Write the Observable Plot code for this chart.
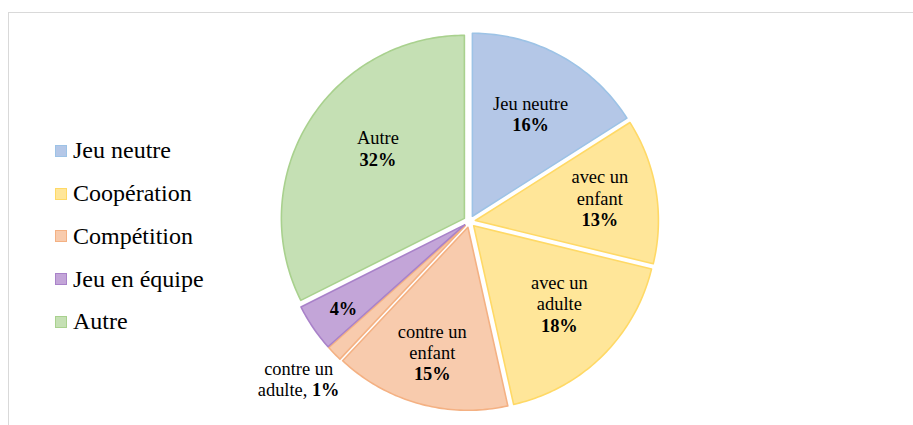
<!DOCTYPE html>
<html><head><meta charset="utf-8">
<script src="https://cdn.jsdelivr.net/npm/d3@7"></script>
<script src="https://cdn.jsdelivr.net/npm/@observablehq/plot@0.6"></script>
<style>
body{margin:0;background:#fff;}
#wrap{position:relative;width:913px;height:425px;overflow:hidden;font-family:'Liberation Serif','Times New Roman','DejaVu Serif',serif;}
#frame{position:absolute;left:8px;top:12px;width:1000px;height:1000px;border-left:1px solid #d9d9d9;border-top:1px solid #d9d9d9;}
#legend{position:absolute;left:55px;top:129.6px;}
.item{display:flex;align-items:center;height:42.7px;font-size:24px;color:#000;white-space:nowrap;}
.sw{width:12px;height:12px;margin-right:6px;box-sizing:border-box;flex:none;}
#chart svg{position:absolute;left:0;top:0;}
#chart svg text{font-family:'Liberation Serif','Times New Roman','DejaVu Serif',serif;}
</style></head><body><div id="wrap"><div id="frame"></div><div id="chart"></div><div id="legend"></div></div>
<script>
// ---- data ----
const sliceNames = ["Jeu neutre","avec un enfant","avec un adulte","contre un enfant","contre un adulte","Jeu en équipe","Autre"];
const sliceGroups = ["Jeu neutre","Coopération","Coopération","Compétition","Compétition","Jeu en équipe","Autre"];
const sliceValues = [16.0, 12.8, 17.7, 15.5, 1.4, 4.2, 32.4];
const percentLabels = ["16%","13%","18%","15%","1%","4%","32%"];
const nameLines = [["Jeu neutre"],["avec un","enfant"],["avec un","adulte"],["contre un","enfant"],["contre un","adulte, "],[],["Autre"]];
const legendLabels = ["Jeu neutre","Coopération","Compétition","Jeu en équipe","Autre"];

// ---- style / layout ----
const fills   = {"Jeu neutre":"#b4c7e7","Coopération":"#ffe699","Compétition":"#f8cbad","Jeu en équipe":"#c3a5d8","Autre":"#c5e0b4"};
const strokes = {"Jeu neutre":"#9dc3e6","Coopération":"#ffd966","Compétition":"#f4b183","Jeu en équipe":"#a982c9","Autre":"#a9d18e"};
const W = 913, H = 425, CX = 469, CY = 221, R = 183, EXPLODE = 6;
const labelRadius = [0.64, 0.69, 0.635, 0.715, 1.24, 0.805, 0.605];
const labelAngleShift = [1, -0.5, -3, 0.5, 1.5, -0.5, 7];
const percentInline = [false,false,false,false,true,false,false];
const FS = 18.4, LH = 21.3, FONT = "'Liberation Serif','Times New Roman','DejaVu Serif',serif";

const ctx = document.createElement("canvas").getContext("2d");
function tw(t, bold){ ctx.font = (bold?"bold ":"") + FS + "px " + FONT; return ctx.measureText(t).width; }

const arcs = d3.pie().sort(null).value(d => d)(sliceValues);
const deg = Math.PI/180;

const polys = [], textRows = [];
arcs.forEach((a, i) => {
  const mid = (a.startAngle + a.endAngle)/2;
  const ox = CX + EXPLODE*Math.sin(mid), oy = CY - EXPLODE*Math.cos(mid);
  const pts = [{x:ox, y:oy}];
  const n = Math.max(2, Math.ceil((a.endAngle - a.startAngle)/deg));
  for (let k = 0; k <= n; k++) {
    const t = a.startAngle + (a.endAngle - a.startAngle)*k/n;
    pts.push({x: ox + R*Math.sin(t), y: oy - R*Math.cos(t)});
  }
  pts.push({x:ox, y:oy});
  polys.push({pts, g: sliceGroups[i]});

  const la = mid + labelAngleShift[i]*deg;
  const lx = ox + labelRadius[i]*R*Math.sin(la), ly = oy - labelRadius[i]*R*Math.cos(la);
  const lines = nameLines[i].slice();
  const L = percentInline[i] ? lines.length : lines.length + 1;
  lines.forEach((t, j) => {
    const y = ly + (j - (L-1)/2)*LH;
    if (percentInline[i] && j === lines.length-1) {
      const w1 = tw(t,false), w2 = tw(percentLabels[i],true);
      const split = lx - (w1+w2)/2 + w1;
      textRows.push({x:split, y, t, bold:false, anchor:"end"});
      textRows.push({x:split, y, t:percentLabels[i], bold:true, anchor:"start"});
    } else {
      textRows.push({x:lx, y, t, bold:false, anchor:"middle"});
    }
  });
  if (!percentInline[i]) textRows.push({x:lx, y: ly + ((L-1)/2)*LH, t: percentLabels[i], bold:true, anchor:"middle"});
});

const textMarks = [];
for (const bold of [false,true]) for (const anchor of ["middle","start","end"]) {
  const rows = textRows.filter(r => r.bold===bold && r.anchor===anchor);
  if (rows.length) textMarks.push(Plot.text(rows, {x:"x", y:"y", text:"t", textAnchor:anchor, lineAnchor:"middle",
    fontSize:FS, fontWeight: bold?"bold":"normal", fill:"#000"}));
}

const plot = Plot.plot({
  width: W, height: H, margin: 0,
  x: {domain:[0,W], range:[0,W], axis:null},
  y: {domain:[0,H], range:[0,H], axis:null},
  style: {fontFamily: FONT, background:"transparent", overflow:"visible"},
  marks: [
    ...polys.map(p => Plot.line(p.pts, {x:"x", y:"y", fill: fills[p.g], stroke: strokes[p.g], strokeWidth:1.6, strokeLinejoin:"round", curve:"linear"})),
    ...textMarks
  ]
});
document.getElementById("chart").appendChild(plot);

const leg = document.getElementById("legend");
legendLabels.forEach(l => {
  const d = document.createElement("div"); d.className = "item";
  const s = document.createElement("div"); s.className = "sw";
  s.style.background = fills[l]; s.style.border = "1px solid " + strokes[l];
  const t = document.createElement("span"); t.textContent = l;
  d.appendChild(s); d.appendChild(t); leg.appendChild(d);
});
</script></body></html>
